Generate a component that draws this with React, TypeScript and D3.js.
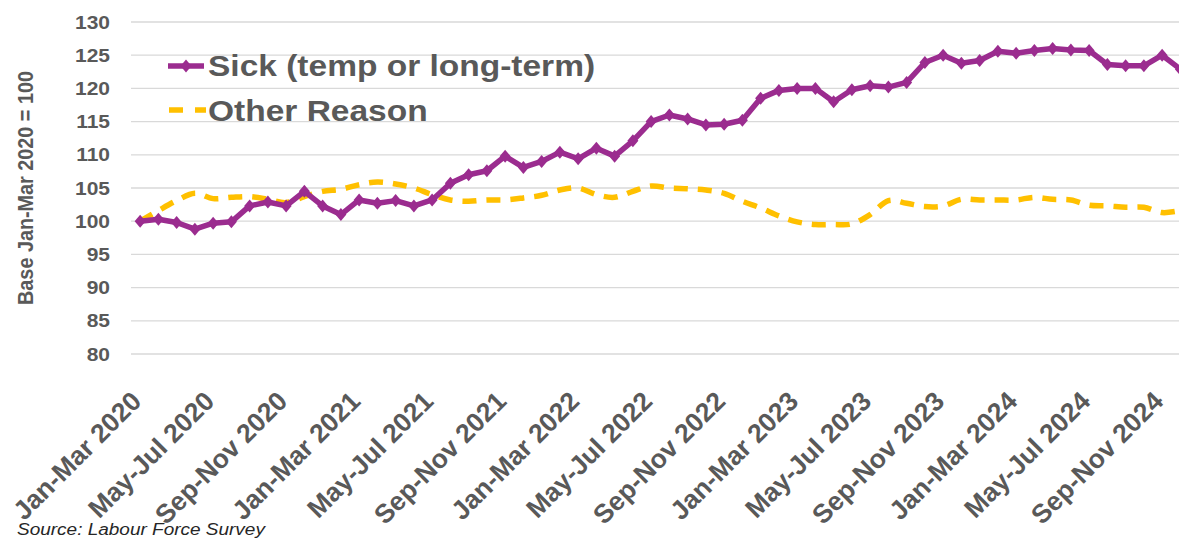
import React from "react";
import * as d3 from "d3";

const categories: string[] = [
  "Jan-Mar 2020", "Feb-Apr 2020", "Mar-May 2020", "Apr-Jun 2020", "May-Jul 2020", "Jun-Aug 2020",
  "Jul-Sep 2020", "Aug-Oct 2020", "Sep-Nov 2020", "Oct-Dec 2020", "Nov-Jan 2021", "Dec-Feb 2021",
  "Jan-Mar 2021", "Feb-Apr 2021", "Mar-May 2021", "Apr-Jun 2021", "May-Jul 2021", "Jun-Aug 2021",
  "Jul-Sep 2021", "Aug-Oct 2021", "Sep-Nov 2021", "Oct-Dec 2021", "Nov-Jan 2022", "Dec-Feb 2022",
  "Jan-Mar 2022", "Feb-Apr 2022", "Mar-May 2022", "Apr-Jun 2022", "May-Jul 2022", "Jun-Aug 2022",
  "Jul-Sep 2022", "Aug-Oct 2022", "Sep-Nov 2022", "Oct-Dec 2022", "Nov-Jan 2023", "Dec-Feb 2023",
  "Jan-Mar 2023", "Feb-Apr 2023", "Mar-May 2023", "Apr-Jun 2023", "May-Jul 2023", "Jun-Aug 2023",
  "Jul-Sep 2023", "Aug-Oct 2023", "Sep-Nov 2023", "Oct-Dec 2023", "Nov-Jan 2024", "Dec-Feb 2024",
  "Jan-Mar 2024", "Feb-Apr 2024", "Mar-May 2024", "Apr-Jun 2024", "May-Jul 2024", "Jun-Aug 2024",
  "Jul-Sep 2024", "Aug-Oct 2024", "Sep-Nov 2024", "Oct-Dec 2024",
];

const sickValues: number[] = [
  100.0, 100.3, 99.8, 98.8, 99.7, 99.9, 102.3, 102.9, 102.3, 104.5, 102.3, 101.0,
  103.2, 102.7, 103.1, 102.3, 103.2, 105.7, 107.0, 107.6, 109.8, 108.1, 109.0, 110.4,
  109.4, 111.0, 109.8, 112.1, 115.0, 116.0, 115.4, 114.5, 114.6, 115.2, 118.5, 119.7,
  120.0, 120.0, 118.0, 119.8, 120.4, 120.2, 120.9, 123.9, 125.0, 123.8, 124.2, 125.6,
  125.3, 125.7, 126.0, 125.8, 125.7, 123.6, 123.4, 123.4, 125.0, 122.9,
];

const otherValues: number[] = [
  100.0, 101.6, 103.1, 104.2, 103.4, 103.6, 103.7, 103.3, 102.8, 103.7, 104.5, 104.8,
  105.5, 105.9, 105.6, 105.0, 104.0, 103.2, 103.0, 103.2, 103.2, 103.5, 103.9, 104.7,
  105.0, 104.0, 103.6, 104.5, 105.3, 105.0, 104.9, 104.7, 104.2, 103.0, 102.0, 100.8,
  99.9, 99.5, 99.5, 99.6, 101.0, 103.1, 102.7, 102.2, 102.3, 103.3, 103.2, 103.2,
  103.2, 103.6, 103.3, 103.2, 102.4, 102.3, 102.1, 102.1, 101.3, 101.6,
];

const yTicks: number[] = [80, 85, 90, 95, 100, 105, 110, 115, 120, 125, 130];
const seriesNames: string[] = ["Sick (temp or long-term)", "Other Reason"];
const yTitle = "Base Jan-Mar 2020 = 100";
const sourceText = "Source: Labour Force Survey";

const W = 1179;
const H = 539;
const SQ = 0.88;
const PURPLE = "#9B2C8F";
const YELLOW = "#FFC000";
const TEXT = "#595959";
const FONT = "'Liberation Sans', Arial, sans-serif";

export default function App() {
  const x = d3.scaleBand<string>().domain(categories).range([131, 131 + 18.25 * categories.length]).padding(0);
  const cx = (c: string) => (x(c) as number) + x.bandwidth() / 2;
  const y = d3.scaleLinear().domain([80, 130]).range([354, 22]);

  const sickLine = d3
    .line<number>()
    .x((_, i) => cx(categories[i]))
    .y((d) => y(d))
    .curve(d3.curveLinear);
  const otherLine = d3
    .line<number>()
    .x((_, i) => cx(categories[i]))
    .y((d) => y(d))
    .curve(d3.curveCatmullRom.alpha(0));

  const diamond = "M0,-6.5 L5.5,0 L0,6.5 L-5.5,0 Z";

  return (
    <svg
      width={W}
      height={H}
      style={{ position: "absolute", left: 0, top: 0, background: "#fff" }}
      fontFamily={FONT}
    >
      <rect x={0} y={0} width={W} height={H} fill="#fff" />
      {yTicks.map((t) => (
        <line key={"g" + t} x1={131} x2={W} y1={y(t)} y2={y(t)} stroke="#d9d9d9" strokeWidth={1.3} />
      ))}
      {yTicks.map((t) => (
        <g key={"t" + t} transform={`translate(110,${y(t)}) scale(1,${SQ})`}>
          <text textAnchor="end" dy="0.36em" fontSize={21} fontWeight="bold" fill={TEXT}>
            {t}
          </text>
        </g>
      ))}
      <g transform={`translate(33,188) scale(1,${SQ}) rotate(-90)`}>
        <text textAnchor="middle" fontSize={22.5} fontWeight="bold" fill={TEXT}>
          {yTitle}
        </text>
      </g>

      <path d={otherLine(otherValues) || ""} fill="none" stroke={YELLOW} strokeWidth={5.5} strokeDasharray="14 10" />
      <path d={sickLine(sickValues) || ""} fill="none" stroke={PURPLE} strokeWidth={5.5} strokeLinejoin="round" />
      {sickValues.map((v, i) => (
        <path key={"m" + i} d={diamond} transform={`translate(${cx(categories[i])},${y(v)})`} fill={PURPLE} />
      ))}

      {categories.map((c, i) =>
        i % 4 === 0 ? (
          <g key={"x" + i} transform={`translate(${cx(c) - 4},${396}) rotate(-45)`}>
            <text textAnchor="end" dy="0.36em" fontSize={26.5} fontWeight="bold" fill={TEXT}>
              {c}
            </text>
          </g>
        ) : null
      )}

      <line x1={168} x2={204} y1={66} y2={66} stroke={PURPLE} strokeWidth={5.5} />
      <path d={diamond} transform="translate(186,66)" fill={PURPLE} />
      <g transform={`translate(208,75.5) scale(1,${SQ})`}>
        <text fontSize={33.5} fontWeight="bold" fill={TEXT}>
          {seriesNames[0]}
        </text>
      </g>
      <line x1={169} x2={206} y1={110} y2={110} stroke={YELLOW} strokeWidth={5.5} strokeDasharray="14 12" />
      <g transform={`translate(208,120.5) scale(1,${SQ})`}>
        <text fontSize={33.5} fontWeight="bold" fill={TEXT}>
          {seriesNames[1]}
        </text>
      </g>

      <g transform={`translate(17,535) scale(1,${SQ})`}>
        <text fontSize={19} fontStyle="italic" fill="#262626">
          {sourceText}
        </text>
      </g>
    </svg>
  );
}
